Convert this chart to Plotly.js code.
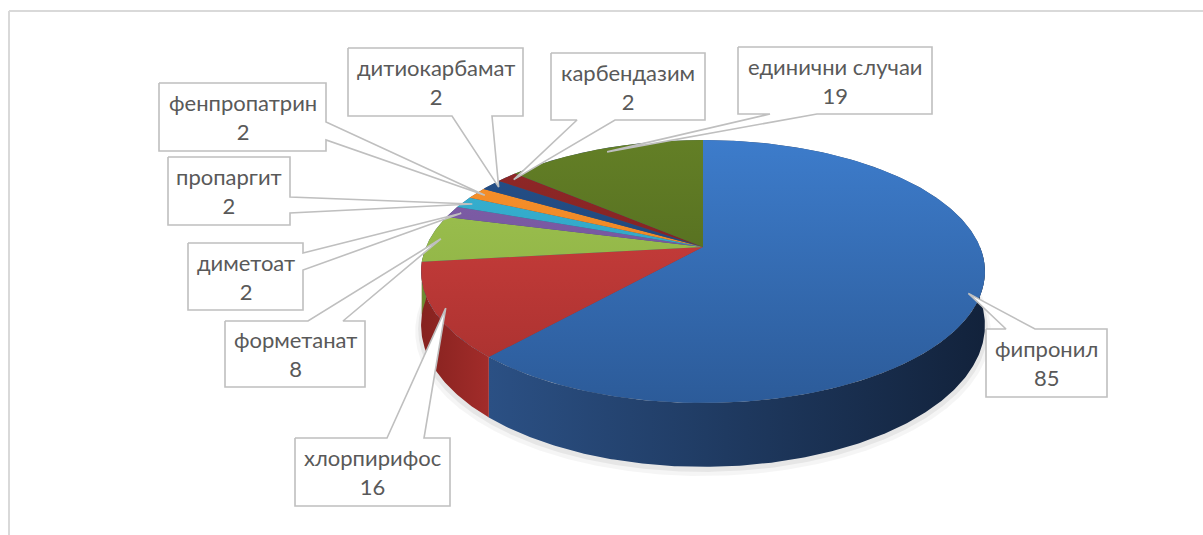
<!DOCTYPE html>
<html><head><meta charset="utf-8">
<script src="https://cdn.plot.ly/plotly-3.0.1.min.js"></script>
<style>html,body{margin:0;padding:0;background:#fff}#chart{width:1203px;height:535px}</style>
</head><body><div id="chart"></div>
<script>
// ---- data ----
const labels = ['фипронил','хлорпирифос','форметанат','диметоат','пропаргит','фенпропатрин','дитиокарбамат','карбендазим','единични случаи'];
const values = [85,16,8,2,2,2,2,2,19];

// ---- styles ----
const topColors = [['#3D7CCB','#2C5B99'],['#D4413F','#A5302E'],['#A0C552','#86A83E'],['#8160AB','#6A4C90'],
                   ['#38B3D4','#2A98B6'],['#F9922C','#E27C1C'],['#25508A','#1B3F6B'],['#912828','#761D1D'],['#637F26','#4A601B']];
const wallColors = [['#2B5084','#12223B'],['#86221F','#A22C2A'],['#708D33','#6A8730'],['#5E4380','#5E4380'],
                    ['#23859F','#23859F'],['#C86A15','#C86A15'],['#17355A','#17355A'],['#661717','#661717'],['#3D4F16','#3D4F16']];

// ---- geometry (layout, in pixel-like axis units) ----
const G = {cx:703, cy:247, A:126.9, B:277, k:0.1863, D:52};
function proj(r, deg, z){
  const t = deg*Math.PI/180;
  const u = r*Math.sin(t), v = -r*Math.cos(t);
  const w = 1/(1 - G.k*v);
  return [G.cx + G.B*u*w, G.cy + G.A*v*w + z*G.D*w];
}
function arc(r, a, b, z){
  const pts=[]; const n=Math.max(2, Math.ceil(Math.abs(b-a)/0.5));
  for(let i=0;i<=n;i++){ pts.push(proj(r, a+(b-a)*i/n, z)); }
  return pts;
}

// callout boxes: [x0,y0,x1,y1], side, wedge base
const callouts = [
  {box:[986,329,1107,397], side:'top',    base:[1006,1035]},
  {box:[295,438,450,506],  side:'top',    base:[387,424]},
  {box:[225,321,365,387],  side:'top',    base:[308,343]},
  {box:[188,243,303,310],  side:'right',  base:[253,270]},
  {box:[168,157,290,225],  side:'right',  base:[197,213]},
  {box:[159,83,326,151],   side:'right',  base:[122,140]},
  {box:[348,48,523,116],   side:'bottom', base:[452,492]},
  {box:[551,53,705,120],   side:'bottom', base:[577,615]},
  {box:[738,47,932,114],   side:'bottom', base:[770,817]}
];

const total = values.reduce((s,v)=>s+v,0);
const starts=[], ends=[];
let acc=0;
values.forEach(v=>{ starts.push(acc/total*360); acc+=v; ends.push(acc/total*360); });

const traces=[];
function poly(pts, fill, grad){
  const t = {type:'scatter', mode:'lines', x:pts.map(p=>p[0]), y:pts.map(p=>p[1]),
    fill:'toself', line:{width:0, color:fill}, fillcolor:fill, hoverinfo:'skip', showlegend:false};
  if(grad) t.fillgradient = grad;
  return t;
}

// soft shadow
[[1.02,5,'rgba(0,0,0,0.04)'],[1.01,3,'rgba(0,0,0,0.06)']].forEach(s=>{
  const pts = arc(s[0], 0, 360, 1).map(p=>[p[0], p[1]+s[1]]);
  traces.push(poly(pts, s[2]));
});
// side walls (visible front half)
values.forEach((v,i)=>{
  const a=Math.max(starts[i],90), b=Math.min(ends[i],270);
  if(b<=a) return;
  const pts = arc(1,a,b,0).concat(arc(1,b,a,1));
  const xs = pts.map(p=>p[0]);
  traces.push(poly(pts, wallColors[i][0], {type:'horizontal', start:Math.min(...xs), stop:Math.max(...xs),
    colorscale:[[0,wallColors[i][0]],[1,wallColors[i][1]]]}));
});
// top underlay
traces.push(poly(arc(1,0,360,0), '#3a5070'));
// top faces
values.forEach((v,i)=>{
  const pts = [[G.cx,G.cy]].concat(arc(1,starts[i],ends[i],0)).concat([[G.cx,G.cy]]);
  traces.push(poly(pts, topColors[i][0], {type:'vertical', start:140, stop:403,
    colorscale:[[0,topColors[i][0]],[1,topColors[i][1]]]}));
});

// callouts
const annotations=[];
values.forEach((v,i)=>{
  const mid=(starts[i]+ends[i])/2;
  const an = proj(0.96, mid, 0);
  const c = callouts[i]; const [x0,y0,x1,y1]=c.box; const [p,q]=c.base;
  let pts;
  if(c.side==='top') pts=[[x0,y0],[p,y0],an,[q,y0],[x1,y0],[x1,y1],[x0,y1],[x0,y0]];
  else if(c.side==='right') pts=[[x0,y0],[x1,y0],[x1,p],an,[x1,q],[x1,y1],[x0,y1],[x0,y0]];
  else pts=[[x0,y0],[x1,y0],[x1,y1],[q,y1],an,[p,y1],[x0,y1],[x0,y0]];
  traces.push({type:'scatter', mode:'lines', x:pts.map(p=>p[0]), y:pts.map(p=>p[1]), fill:'toself',
    fillcolor:'#ffffff', line:{color:'#BFBFBF', width:1.6}, hoverinfo:'skip', showlegend:false});
  annotations.push({x:(x0+x1)/2, y:(y0+y1)/2, xref:'x', yref:'y', showarrow:false,
    text:labels[i]+'<br>'+values[i], align:'center',
    font:{family:'Lato, "Open Sans", sans-serif', size:22, color:'#595959'}});
});

const layout = {
  width:1203, height:535, margin:{l:0,r:0,t:0,b:0},
  paper_bgcolor:'#ffffff', plot_bgcolor:'#ffffff', showlegend:false, hovermode:false,
  xaxis:{range:[0,1203], visible:false, fixedrange:true},
  yaxis:{range:[535,0], visible:false, fixedrange:true},
  annotations:annotations,
  shapes:[
    {type:'line', xref:'x', yref:'y', x0:9, y0:11, x1:1203, y1:11, line:{color:'#D9D9D9', width:2}},
    {type:'line', xref:'x', yref:'y', x0:9, y0:11, x1:9, y1:535, line:{color:'#D9D9D9', width:2}}
  ]
};
Plotly.newPlot('chart', traces, layout, {displayModeBar:false, staticPlot:true});
</script>
</body></html>
